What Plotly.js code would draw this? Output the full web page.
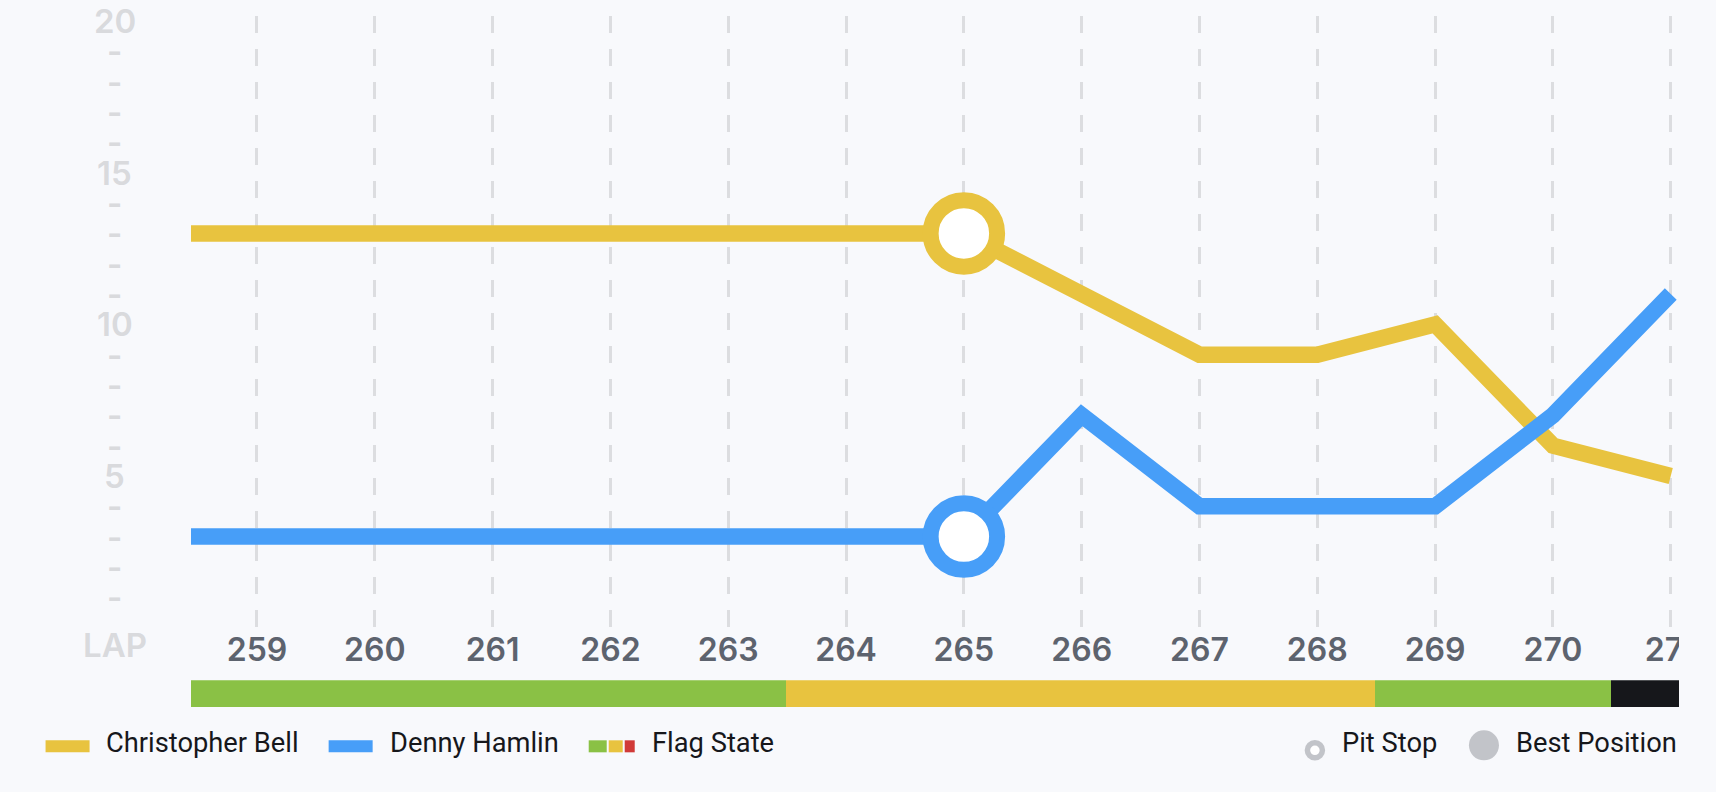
<!DOCTYPE html>
<html>
<head>
<meta charset="utf-8">
<script src="https://cdn.plot.ly/plotly-3.0.1.min.js"></script>
<style>
  html, body { margin: 0; padding: 0; background: #f8f9fc; overflow: hidden; }
  #chart { width: 1679px; height: 792px; overflow: hidden; }
</style>
</head>
<body>
<div id="chart"></div>
<script>
const laps = [258.44, 259, 260, 261, 262, 263, 264, 265, 266, 267, 268, 269, 270, 271];
const bellPos = [13, 13, 13, 13, 13, 13, 13, 13, 11, 9, 9, 10, 6, 5];
const hamlinPos = [3, 3, 3, 3, 3, 3, 3, 3, 7, 4, 4, 4, 7, 11];

const lapTicks = [259, 260, 261, 262, 263, 264, 265, 266, 267, 268, 269, 270, 271];

const posTicks = [20, 19, 18, 17, 16, 15, 14, 13, 12, 11, 10, 9, 8, 7, 6, 5, 4, 3, 2, 1];
const posLabels = ["20", "-", "-", "-", "-", "15", "-", "-", "-", "-", "10", "-", "-", "-", "-", "5", "-", "-", "-", "-"];

const pitLap = [265];
const bellPit = [13];
const hamlinPit = [3];

const flagStart = [258.44, 263.49, 268.49, 270.49];
const flagEnd = [263.49, 268.49, 270.49, 271.07];
const flagColors = ["#8ac145", "#e8c33f", "#8ac145", "#16171b"];

const YELLOW = "#e8c33f";
const BLUE = "#479ef8";
const GREY = "#dcdde0";
const LABEL_GREY = "#d9dadd";
const DARK = "#16171b";
const LEGEND_GREY = "#c2c4c9";
const FONT = "Roboto, sans-serif";
const TICK_FONT = "Inter, sans-serif";

// page pixels to paper coords, the legend row sits below the plots
const PLOT_L = 191.4, PLOT_W = 1487.6, PLOT_T = 16, PLOT_H = 690.7;
const px = (x) => (x - PLOT_L) / PLOT_W;
const py = (y) => (PLOT_T + PLOT_H - y) / PLOT_H;

const traces = [
  {
    x: laps, y: bellPos, mode: "lines", name: "Christopher Bell",
    line: { color: YELLOW, width: 16.5 }
  },
  {
    x: laps, y: hamlinPos, mode: "lines", name: "Denny Hamlin",
    line: { color: BLUE, width: 16.5 }
  },
  {
    x: pitLap, y: bellPit, mode: "markers", name: "Pit Stop",
    marker: { size: 66.5, color: "#ffffff", line: { color: YELLOW, width: 16 } }
  },
  {
    x: pitLap, y: hamlinPit, mode: "markers", name: "Pit Stop",
    marker: { size: 66.5, color: "#ffffff", line: { color: BLUE, width: 16 } }
  },
  {
    type: "bar", orientation: "h", name: "Flag State",
    base: flagStart,
    x: flagEnd.map((e, i) => e - flagStart[i]),
    y: flagStart.map(() => 0),
    marker: { color: flagColors, line: { width: 0 } },
    xaxis: "x2", yaxis: "y2", hoverinfo: "skip"
  }
];

function legendText(text, x, y) {
  return {
    text: text, x: px(x), y: py(y), xref: "paper", yref: "paper",
    xanchor: "left", yanchor: "middle", showarrow: false,
    font: { family: FONT, size: 27.3, color: DARK }
  };
}

function rect(x0, x1, y0, y1, color) {
  return {
    type: "rect", xref: "paper", yref: "paper",
    x0: px(x0), x1: px(x1), y0: py(y0), y1: py(y1),
    fillcolor: color, line: { width: 0 }
  };
}

function circle(cx, cy, r, fill, lineWidth) {
  return {
    type: "circle", xref: "paper", yref: "paper",
    x0: px(cx - r), x1: px(cx + r), y0: py(cy + r), y1: py(cy - r),
    fillcolor: fill, line: { color: LEGEND_GREY, width: lineWidth }
  };
}

// y labels are centred on x=115 so they can't be normal tick labels
const posAnnotations = posTicks.map((p, i) => ({
  text: posLabels[i], x: px(115), y: p, xref: "paper", yref: "y",
  showarrow: false, xanchor: "center", yanchor: "middle",
  font: { family: TICK_FONT, size: 33, color: LABEL_GREY, weight: 600 }
}));

const layout = {
  width: 1679, height: 792,
  margin: { l: PLOT_L, r: 0, t: PLOT_T, b: 792 - PLOT_T - PLOT_H },
  paper_bgcolor: "#f8f9fc", plot_bgcolor: "#f8f9fc",
  showlegend: false, bargap: 0, barmode: "overlay",
  xaxis: {
    range: [258.44, 271.07], anchor: "y",
    tickmode: "array", tickvals: lapTicks, ticktext: lapTicks.map(String),
    tickfont: { family: TICK_FONT, size: 32, color: "#5d636e", weight: 600 },
    ticklabeloverflow: "allow",
    ticks: "", showline: false, zeroline: false,
    showgrid: true, gridcolor: GREY, gridwidth: 3, griddash: "16.6px,16.4px"
  },
  yaxis: {
    range: [0, 20.17], domain: [0.115, 1],
    showticklabels: false, ticks: "", showgrid: false, zeroline: false, showline: false
  },
  xaxis2: {
    matches: "x", anchor: "y2", visible: false, showgrid: false
  },
  yaxis2: {
    range: [-0.5, 0.5], domain: [0, 0.0387], anchor: "x2", visible: false, showgrid: false
  },
  annotations: posAnnotations.concat([
    {
      text: "LAP", x: px(115), y: py(645), xref: "paper", yref: "paper",
      showarrow: false, xanchor: "center", yanchor: "middle",
      font: { family: TICK_FONT, size: 33, color: LABEL_GREY, weight: 600 }
    },
    legendText("Christopher Bell", 104.5, 743),
    legendText("Denny Hamlin", 388.5, 743),
    legendText("Flag State", 650.5, 743),
    legendText("Pit Stop", 1340.5, 743),
    legendText("Best Position", 1514.5, 743)
  ]),
  shapes: [
    rect(46, 90, 740, 752, YELLOW),
    rect(329, 373, 740, 752, BLUE),
    rect(589, 607, 740, 752, "#8ac145"),
    rect(609, 623, 740, 752, YELLOW),
    rect(625, 635, 740, 752, "#d13a38"),
    circle(1315, 750, 7.5, "#ffffff", 5.5),
    circle(1484, 745, 15, LEGEND_GREY, 0)
  ]
};

Plotly.newPlot("chart", traces, layout, { displayModeBar: false, staticPlot: true });
</script>
</body>
</html>
